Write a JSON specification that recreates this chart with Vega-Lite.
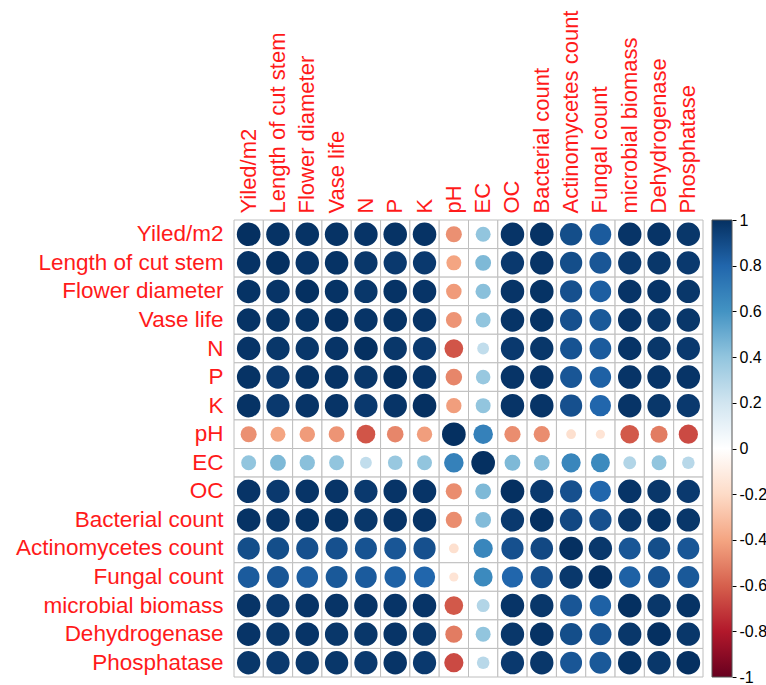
{
  "$schema": "https://vega.github.io/schema/vega-lite/v6.json",
  "width": 469,
  "height": 457,
  "autosize": {"type": "none"},
  "padding": {"left": 234, "top": 220, "right": 63, "bottom": 8},
  "background": "white",
  "config": {"view": {"stroke": null}, "font": "Liberation Sans"},
  "data": {
    "values": [
      {"var": "Yiled/m2", "Yiled/m2": 1, "Length of cut stem": 0.99, "Flower diameter": 0.99, "Vase life": 0.99, "N": 0.985, "P": 0.99, "K": 0.99, "pH": -0.46, "EC": 0.40, "OC": 0.985, "Bacterial count": 0.99, "Actinomycetes count": 0.89, "Fungal count": 0.84, "microbial biomass": 0.985, "Dehydrogenase": 0.985, "Phosphatase": 0.975},
      {"var": "Length of cut stem", "Yiled/m2": 0.99, "Length of cut stem": 1, "Flower diameter": 0.985, "Vase life": 0.99, "N": 0.975, "P": 0.965, "K": 0.965, "pH": -0.40, "EC": 0.45, "OC": 0.965, "Bacterial count": 0.985, "Actinomycetes count": 0.89, "Fungal count": 0.86, "microbial biomass": 0.965, "Dehydrogenase": 0.975, "Phosphatase": 0.965},
      {"var": "Flower diameter", "Yiled/m2": 0.99, "Length of cut stem": 0.985, "Flower diameter": 1, "Vase life": 0.99, "N": 0.975, "P": 0.99, "K": 0.985, "pH": -0.43, "EC": 0.42, "OC": 0.985, "Bacterial count": 0.99, "Actinomycetes count": 0.88, "Fungal count": 0.83, "microbial biomass": 0.985, "Dehydrogenase": 0.985, "Phosphatase": 0.975},
      {"var": "Vase life", "Yiled/m2": 0.99, "Length of cut stem": 0.99, "Flower diameter": 0.99, "Vase life": 1, "N": 0.985, "P": 0.99, "K": 0.985, "pH": -0.45, "EC": 0.40, "OC": 0.985, "Bacterial count": 0.99, "Actinomycetes count": 0.88, "Fungal count": 0.85, "microbial biomass": 0.985, "Dehydrogenase": 0.975, "Phosphatase": 0.975},
      {"var": "N", "Yiled/m2": 0.985, "Length of cut stem": 0.975, "Flower diameter": 0.975, "Vase life": 0.985, "N": 1, "P": 0.975, "K": 0.965, "pH": -0.63, "EC": 0.25, "OC": 0.965, "Bacterial count": 0.975, "Actinomycetes count": 0.87, "Fungal count": 0.84, "microbial biomass": 0.985, "Dehydrogenase": 0.975, "Phosphatase": 0.965},
      {"var": "P", "Yiled/m2": 0.99, "Length of cut stem": 0.965, "Flower diameter": 0.99, "Vase life": 0.99, "N": 0.975, "P": 1, "K": 0.985, "pH": -0.49, "EC": 0.38, "OC": 0.985, "Bacterial count": 0.985, "Actinomycetes count": 0.86, "Fungal count": 0.82, "microbial biomass": 0.985, "Dehydrogenase": 0.985, "Phosphatase": 0.985},
      {"var": "K", "Yiled/m2": 0.99, "Length of cut stem": 0.965, "Flower diameter": 0.985, "Vase life": 0.985, "N": 0.965, "P": 0.985, "K": 1, "pH": -0.42, "EC": 0.40, "OC": 0.985, "Bacterial count": 0.985, "Actinomycetes count": 0.88, "Fungal count": 0.80, "microbial biomass": 0.985, "Dehydrogenase": 0.975, "Phosphatase": 0.965},
      {"var": "pH", "Yiled/m2": -0.46, "Length of cut stem": -0.40, "Flower diameter": -0.43, "Vase life": -0.45, "N": -0.63, "P": -0.49, "K": -0.42, "pH": 1, "EC": 0.68, "OC": -0.47, "Bacterial count": -0.47, "Actinomycetes count": -0.17, "Fungal count": -0.15, "microbial biomass": -0.62, "Dehydrogenase": -0.52, "Phosphatase": -0.66},
      {"var": "EC", "Yiled/m2": 0.40, "Length of cut stem": 0.45, "Flower diameter": 0.42, "Vase life": 0.40, "N": 0.25, "P": 0.38, "K": 0.40, "pH": 0.68, "EC": 1, "OC": 0.45, "Bacterial count": 0.44, "Actinomycetes count": 0.66, "Fungal count": 0.64, "microbial biomass": 0.30, "Dehydrogenase": 0.40, "Phosphatase": 0.28},
      {"var": "OC", "Yiled/m2": 0.985, "Length of cut stem": 0.965, "Flower diameter": 0.985, "Vase life": 0.985, "N": 0.965, "P": 0.985, "K": 0.985, "pH": -0.47, "EC": 0.45, "OC": 1, "Bacterial count": 0.965, "Actinomycetes count": 0.88, "Fungal count": 0.80, "microbial biomass": 0.985, "Dehydrogenase": 0.975, "Phosphatase": 0.965},
      {"var": "Bacterial count", "Yiled/m2": 0.99, "Length of cut stem": 0.985, "Flower diameter": 0.99, "Vase life": 0.99, "N": 0.975, "P": 0.985, "K": 0.985, "pH": -0.47, "EC": 0.44, "OC": 0.965, "Bacterial count": 1, "Actinomycetes count": 0.91, "Fungal count": 0.88, "microbial biomass": 0.975, "Dehydrogenase": 0.99, "Phosphatase": 0.975},
      {"var": "Actinomycetes count", "Yiled/m2": 0.89, "Length of cut stem": 0.89, "Flower diameter": 0.88, "Vase life": 0.88, "N": 0.87, "P": 0.86, "K": 0.88, "pH": -0.17, "EC": 0.66, "OC": 0.88, "Bacterial count": 0.91, "Actinomycetes count": 1, "Fungal count": 0.97, "microbial biomass": 0.86, "Dehydrogenase": 0.89, "Phosphatase": 0.86},
      {"var": "Fungal count", "Yiled/m2": 0.84, "Length of cut stem": 0.86, "Flower diameter": 0.83, "Vase life": 0.85, "N": 0.84, "P": 0.82, "K": 0.80, "pH": -0.15, "EC": 0.64, "OC": 0.80, "Bacterial count": 0.88, "Actinomycetes count": 0.97, "Fungal count": 1, "microbial biomass": 0.82, "Dehydrogenase": 0.87, "Phosphatase": 0.85},
      {"var": "microbial biomass", "Yiled/m2": 0.985, "Length of cut stem": 0.965, "Flower diameter": 0.985, "Vase life": 0.985, "N": 0.985, "P": 0.985, "K": 0.985, "pH": -0.62, "EC": 0.30, "OC": 0.985, "Bacterial count": 0.975, "Actinomycetes count": 0.86, "Fungal count": 0.82, "microbial biomass": 1, "Dehydrogenase": 0.975, "Phosphatase": 0.99},
      {"var": "Dehydrogenase", "Yiled/m2": 0.985, "Length of cut stem": 0.975, "Flower diameter": 0.985, "Vase life": 0.975, "N": 0.975, "P": 0.985, "K": 0.975, "pH": -0.52, "EC": 0.40, "OC": 0.975, "Bacterial count": 0.99, "Actinomycetes count": 0.89, "Fungal count": 0.87, "microbial biomass": 0.975, "Dehydrogenase": 1, "Phosphatase": 0.975},
      {"var": "Phosphatase", "Yiled/m2": 0.975, "Length of cut stem": 0.965, "Flower diameter": 0.975, "Vase life": 0.975, "N": 0.965, "P": 0.985, "K": 0.965, "pH": -0.66, "EC": 0.28, "OC": 0.965, "Bacterial count": 0.975, "Actinomycetes count": 0.86, "Fungal count": 0.85, "microbial biomass": 0.99, "Dehydrogenase": 0.975, "Phosphatase": 1}
    ]
  },
  "transform": [
    {
      "fold": ["Yiled/m2", "Length of cut stem", "Flower diameter", "Vase life", "N", "P", "K", "pH", "EC", "OC", "Bacterial count", "Actinomycetes count", "Fungal count", "microbial biomass", "Dehydrogenase", "Phosphatase"],
      "as": ["col", "r"]
    }
  ],
  "layer": [
    {
      "encoding": {
        "x": {
          "field": "col",
          "type": "nominal",
          "sort": ["Yiled/m2", "Length of cut stem", "Flower diameter", "Vase life", "N", "P", "K", "pH", "EC", "OC", "Bacterial count", "Actinomycetes count", "Fungal count", "microbial biomass", "Dehydrogenase", "Phosphatase"],
          "scale": {"paddingInner": 0, "paddingOuter": 0},
          "axis": {
            "orient": "top",
            "title": null,
            "domain": false,
            "ticks": false,
            "labelAngle": -90,
            "labelAlign": "left",
            "labelBaseline": "middle",
            "labelPadding": 7,
            "labelLimit": 0,
            "labelFont": "Liberation Sans",
            "labelFontSize": 22,
            "labelColor": "#FF1A1A"
          }
        },
        "y": {
          "field": "var",
          "type": "nominal",
          "sort": ["Yiled/m2", "Length of cut stem", "Flower diameter", "Vase life", "N", "P", "K", "pH", "EC", "OC", "Bacterial count", "Actinomycetes count", "Fungal count", "microbial biomass", "Dehydrogenase", "Phosphatase"],
          "scale": {"paddingInner": 0, "paddingOuter": 0},
          "axis": {
            "orient": "left",
            "title": null,
            "domain": false,
            "ticks": false,
            "labelPadding": 11,
            "labelLimit": 0,
            "labelFont": "Liberation Sans",
            "labelFontSize": 22.5,
            "labelColor": "#FF1A1A"
          }
        }
      },
      "layer": [
        {
          "mark": {"type": "rect", "fill": "white", "stroke": "#BEBEBE", "strokeWidth": 1}
        },
        {
          "mark": {"type": "circle", "opacity": 1},
          "encoding": {
            "color": {
              "field": "r",
              "type": "quantitative",
              "scale": {
                "domain": [-1, -0.8, -0.6, -0.4, -0.2, 0, 0.2, 0.4, 0.6, 0.8, 1],
                "range": ["#67001F", "#B2182B", "#D6604D", "#F4A582", "#FDDBC7", "#FFFFFF", "#D1E5F0", "#92C5DE", "#4393C3", "#2166AC", "#053061"],
                "interpolate": "rgb"
              },
              "legend": {
                "title": null,
                "orient": "none",
                "legendX": 478,
                "legendY": 0,
                "direction": "vertical",
                "gradientLength": 457,
                "gradientThickness": 20,
                "gradientStrokeColor": "#555555",
                "gradientStrokeWidth": 1,
                "labelExpr": "''",
                "labelOpacity": 0,
                "padding": 0
              }
            },
            "size": {
              "field": "r",
              "type": "quantitative",
              "scale": {"domain": [-1, 0, 1], "range": [560, 0, 560], "nice": false},
              "legend": null
            }
          }
        }
      ]
    },
    {
      "mark": {"type": "tick", "opacity": 0},
      "encoding": {
        "y": {
          "field": "r",
          "type": "quantitative",
          "scale": {"domain": [-1, 1], "nice": false, "zero": false},
          "axis": {
            "orient": "right",
            "offset": 29,
            "title": null,
            "grid": false,
            "domain": false,
            "values": [-1, -0.8, -0.6, -0.4, -0.2, 0, 0.2, 0.4, 0.6, 0.8, 1],
            "labelExpr": "replace(format(datum.value, '.1~f'), '−', '-')",
            "labelFlush": false,
            "labelOverlap": false,
            "tickSize": 4,
            "tickColor": "black",
            "labelPadding": 3,
            "labelFont": "Liberation Sans",
            "labelFontSize": 16,
            "labelColor": "black"
          }
        }
      }
    }
  ],
  "resolve": {"scale": {"y": "independent"}, "axis": {"y": "independent"}}
}
